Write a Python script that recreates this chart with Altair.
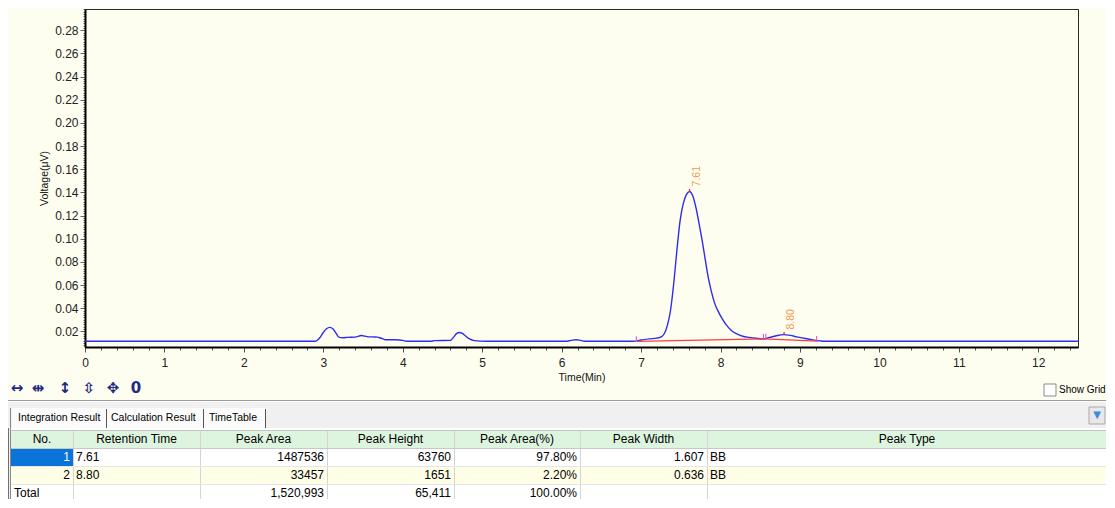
import altair as alt
import pandas as pd

# ---------------- chromatogram data ----------------
time_min = [0.0, 2.90, 2.95, 3.00, 3.04, 3.08, 3.12, 3.16, 3.20, 3.25, 3.30, 3.40, 3.48, 3.55,
            3.62, 3.68, 3.72, 3.78, 3.90, 4.00, 4.06, 4.35, 4.40, 4.60, 4.64, 4.68, 4.71, 4.75,
            4.79, 4.84, 4.90, 5.05, 6.05, 6.12, 6.18, 6.24, 6.30, 6.90, 7.00, 7.10, 7.20, 7.26,
            7.30, 7.33, 7.37, 7.41, 7.45, 7.49, 7.53, 7.57, 7.61, 7.65, 7.69, 7.73, 7.77, 7.81,
            7.85, 7.89, 7.93, 7.98, 8.03, 8.08, 8.14, 8.20, 8.28, 8.36, 8.45, 8.54, 8.62, 8.70,
            8.79, 8.88, 8.96, 9.05, 9.15, 9.25, 9.32, 12.5]
voltage = [0.0114, 0.0114, 0.0140, 0.0190, 0.0222, 0.0234, 0.0222, 0.0185, 0.0148, 0.0145, 0.0148, 0.0150, 0.0164, 0.0155,
           0.0152, 0.0150, 0.0143, 0.0128, 0.0127, 0.0122, 0.0114, 0.0114, 0.0120, 0.0122, 0.0150, 0.0183, 0.0190, 0.0182,
           0.0160, 0.0135, 0.0120, 0.0114, 0.0114, 0.0122, 0.0128, 0.0122, 0.0114, 0.0114, 0.0125, 0.0135, 0.0142, 0.0155,
           0.0190, 0.0250, 0.0378, 0.0607, 0.0893, 0.1150, 0.1300, 0.1380, 0.1408, 0.1370, 0.1270, 0.1130, 0.0980, 0.0810,
           0.0650, 0.0530, 0.0435, 0.0360, 0.0300, 0.0249, 0.0205, 0.0180, 0.0158, 0.0148, 0.0140, 0.0135, 0.0148, 0.0162,
           0.0172, 0.0165, 0.0152, 0.0140, 0.0128, 0.0118, 0.0114, 0.0114]

# integration baselines (red)
base_seg = ["A", "A", "B", "B"]
base_t = [6.95, 8.55, 8.55, 9.22]
base_v = [0.0114, 0.0136, 0.0136, 0.0116]

# peak start / end markers (magenta)
mark_t = [6.94, 8.54, 8.57, 9.21]
mark_v = [0.0112, 0.0133, 0.0134, 0.0115]

# detected peaks
peak_rt = [7.61, 8.80]
peak_h = [0.1408, 0.0172]
peak_lab = ["7.61", "8.80"]

# axis ticks
x_major = list(range(0, 13))
y_major = [0.02, 0.04, 0.06, 0.08, 0.10, 0.12, 0.14, 0.16, 0.18, 0.20, 0.22, 0.24, 0.26, 0.28]

# ---------------- result table ----------------
tab_names = ["Integration Result", "Calculation Result", "TimeTable"]
headers = ["No.", "Retention Time", "Peak Area", "Peak Height", "Peak Area(%)", "Peak Width", "Peak Type"]
row_no = ["1", "2", "Total"]
ret_time = ["7.61", "8.80", ""]
peak_area = ["1487536", "33457", "1,520,993"]
peak_height = ["63760", "1651", "65,411"]
peak_pct = ["97.80%", "2.20%", "100.00%"]
peak_width = ["1.607", "0.636", ""]
peak_type = ["BB", "BB", ""]
col_align = ["right", "left", "right", "right", "right", "right", "left"]

toolbar_icons = ["\u2194", "\u21f9", "\u2195", "\u21f3", "\u2725", "0"]

# ---------------- layout / style ----------------
OX, OY = 85, 9          # page position of the plot origin
W, H = 993, 338
PAD = {"left": 77, "top": 1, "right": 28, "bottom": 152}
IVORY = "#FEFEF0"
BLUE = "#2C2CF0"
RED = "#FF3B3B"
MAGENTA = "#E040E0"
ORANGE = "#F2974E"
FONT = "Liberation Sans"

col_edges = [11, 73, 200, 327, 454, 580, 707, 1110]
row_tops = [430, 448, 466, 484]
ROW_H = 18
BOTTOM = 502

xs = alt.Scale(domain=[0, 12.5], nice=False, zero=False)
ys = alt.Scale(domain=[0.0065, 0.2983], nice=False, zero=False)

x_ticks = [round(i * 0.2, 1) for i in range(63)]
y_ticks = [round(0.008 + i * 0.002, 3) for i in range(146)]

x_axis = alt.Axis(
    values=x_ticks,
    labelExpr="abs(datum.value - round(datum.value)) < 0.001 ? format(datum.value, 'd') : ''",
    tickSize={"condition": {"test": "abs(datum.value - round(datum.value)) < 0.001", "value": 5}, "value": 3},
    title="Time(Min)", titlePadding=4, labelPadding=5, labelOverlap=False, labelFlush=False,
    grid=False, domainColor="#000000", domainWidth=2, tickColor="#555555",
)
y_axis = alt.Axis(
    values=y_ticks,
    labelExpr="abs(datum.value * 50 - round(datum.value * 50)) < 0.001 ? format(datum.value, '.2f') : ''",
    tickSize={"condition": {"test": "abs(datum.value * 50 - round(datum.value * 50)) < 0.001", "value": 5}, "value": 2},
    title="Voltage(\u03bcV)", titlePadding=5, labelPadding=2, labelOverlap=False, labelFlush=False,
    grid=False, domainColor="#000000", domainWidth=2, tickColor="#666666",
)

X = alt.X("t:Q", scale=xs, axis=x_axis)
Y = alt.Y("v:Q", scale=ys, axis=y_axis)


def ui_rects(recs, stroke=None):
    df = pd.DataFrame(recs, columns=["x1", "y1", "x2", "y2", "fill"])
    df["x1"] -= OX
    df["x2"] -= OX
    df["y1"] -= OY
    df["y2"] -= OY
    mk = alt.Chart(df).mark_rect(stroke=stroke, strokeWidth=1) if stroke else alt.Chart(df).mark_rect()
    return mk.encode(
        x=alt.X("x1:Q", scale=None, axis=None), x2="x2:Q",
        y=alt.Y("y1:Q", scale=None, axis=None), y2="y2:Q",
        fill=alt.Fill("fill:N", scale=None),
    )


def ui_rules(recs, width=1):
    df = pd.DataFrame(recs, columns=["x1", "y1", "x2", "y2", "col"])
    df["x1"] -= OX
    df["x2"] -= OX
    df["y1"] -= OY
    df["y2"] -= OY
    return alt.Chart(df).mark_rule(strokeWidth=width).encode(
        x=alt.X("x1:Q", scale=None, axis=None), x2="x2:Q",
        y=alt.Y("y1:Q", scale=None, axis=None), y2="y2:Q",
        color=alt.Color("col:N", scale=None),
    )


def ui_text(recs, align, size=12, font=FONT, weight="normal", **kw):
    df = pd.DataFrame(recs, columns=["x", "y", "text", "col"])
    df["x"] -= OX
    df["y"] -= OY
    return alt.Chart(df).mark_text(align=align, baseline="middle", fontSize=size, font=font,
                                   fontWeight=weight, **kw).encode(
        x=alt.X("x:Q", scale=None, axis=None),
        y=alt.Y("y:Q", scale=None, axis=None),
        text="text:N",
        color=alt.Color("col:N", scale=None),
    )


# ---- UI panel below the plot ----
panel = ui_rects([
    (0, 402, 1120, BOTTOM, "#F0F0F0"),
    (12, 408, 266, 428, "#FBFBFB"),
    (11, 428, 1110, BOTTOM, "#FFFFFF"),
])
seps = ui_rules([
    (0, 400.5, 1120, 400.5, "#9A9A9A"),
    (0, 401.5, 1120, 401.5, "#FFFFFF"),
    (106.5, 409, 106.5, 428, "#555555"),
    (203.5, 409, 203.5, 428, "#555555"),
    (265.5, 409, 265.5, 428, "#555555"),
    (8.5, 428, 8.5, BOTTOM, "#707070"),
    (10.5, 408, 10.5, BOTTOM, "#8A8A8A"),
    (1111.5, 0, 1111.5, 400, "#8A8A8A"),
])
tabs_txt = ui_text([
    (18, 418, tab_names[0], "#000000"),
    (111, 418, tab_names[1], "#000000"),
    (209, 418, tab_names[2], "#000000"),
], "left", size=10.5)

# table fills
fills = [
    (11, row_tops[0], 1110, row_tops[1], "#DDF5DF"),
    (11, row_tops[1], 1110, row_tops[2], "#FFFFFF"),
    (11, row_tops[2], 1110, row_tops[3], "#FFFFE8"),
    (11, row_tops[3], 1110, BOTTOM, "#FFFFFF"),
    (col_edges[0], row_tops[1], col_edges[1], row_tops[2], "#0A74DA"),
]
table_fill = ui_rects(fills)
grid_lines = []
for cx in col_edges[1:-1]:
    grid_lines.append((cx + 0.5, row_tops[0], cx + 0.5, BOTTOM, "#D4D4D4"))
grid_lines.append((11, row_tops[0] + 0.5, 1110, row_tops[0] + 0.5, "#C4C4C4"))
grid_lines.append((11, row_tops[1] + 0.5, 1110, row_tops[1] + 0.5, "#C8C8C8"))
grid_lines.append((11, row_tops[2] + 0.5, 1110, row_tops[2] + 0.5, "#E6E6E6"))
grid_lines.append((11, row_tops[3] + 0.5, 1110, row_tops[3] + 0.5, "#E6E6E6"))
grid_lines.append((11, row_tops[3] + ROW_H + 0.5, 1110, row_tops[3] + ROW_H + 0.5, "#E6E6E6"))
table_grid = ui_rules(grid_lines)

hdr_recs = []
for i, h in enumerate(headers):
    right = col_edges[i + 1] if i < len(headers) - 1 else 1107
    hdr_recs.append(((col_edges[i] + right) / 2, row_tops[0] + ROW_H / 2, h, "#000000"))

columns = [row_no, ret_time, peak_area, peak_height, peak_pct, peak_width, peak_type]
left_recs, right_recs = [], []
for r in range(3):
    yc = row_tops[r + 1] + ROW_H / 2
    for c, colvals in enumerate(columns):
        val = colvals[r]
        if val == "":
            continue
        color = "#FFFFFF" if (r == 0 and c == 0) else "#000000"
        align = col_align[c]
        if c == 0 and val == "Total":
            align = "left"
        if align == "left":
            left_recs.append((col_edges[c] + 3, yc, val, color))
        else:
            right_recs.append((col_edges[c + 1] - 3, yc, val, color))

hdr_txt = ui_text(hdr_recs, "center")
left_txt = ui_text(left_recs, "left")
right_txt = ui_text(right_recs, "right")

# dropdown button
drop_btn = ui_rects([(1089, 407, 1105, 424, "#E8E8E8")], stroke="#A8A8A8")
drop_icon = ui_text([(1097, 415, "\u25bc", "#3C8CE0")], "center", size=10, font="DejaVu Sans")

# toolbar + checkbox
icon_x = [17, 38, 65, 89, 113, 136]
toolbar = ui_text([(x, 388, s, "#1F2A80") for x, s in zip(icon_x, toolbar_icons)],
                  "center", size=15, font="DejaVu Sans", weight="bold")
checkbox = ui_rects([(1044, 384, 1056, 396, "#FFFFFF")], stroke="#8A8A8A")
show_grid = ui_text([(1059, 390, "Show Grid", "#000000")], "left", size=10)

# ---- chromatogram layers ----
trace = alt.Chart(pd.DataFrame({"t": time_min, "v": voltage})).mark_line(
    color=BLUE, strokeWidth=1.4, interpolate="monotone", clip=True).encode(x=X, y=Y)

baseline = alt.Chart(pd.DataFrame({"seg": base_seg, "t": base_t, "v": base_v})).mark_line(
    color=RED, strokeWidth=1.2).encode(x=X, y=Y, detail="seg:N")

markers = alt.Chart(pd.DataFrame({"t": mark_t, "v": mark_v,
                                  "v2": [m + 0.0045 for m in mark_v]})).mark_rule(
    color=MAGENTA, strokeWidth=1).encode(x=X, y=Y, y2="v2:Q")

apex = alt.Chart(pd.DataFrame({"t": peak_rt, "v": peak_h,
                               "v2": [p + 0.0022 for p in peak_h]})).mark_rule(
    color=RED, strokeWidth=1.5).encode(x=X, y=Y, y2="v2:Q")

labels = alt.Chart(pd.DataFrame({"t": peak_rt, "v": peak_h, "lab": peak_lab})).mark_text(
    angle=270, align="left", baseline="middle", dx=5, dy=7, color=ORANGE,
    fontSize=10.5, font=FONT).encode(x=X, y=Y, text="lab:N")

chart = alt.layer(
    panel, seps, tabs_txt, table_fill, table_grid, hdr_txt, left_txt, right_txt,
    drop_btn, drop_icon, toolbar, checkbox, show_grid,
    trace, baseline, markers, apex, labels,
).properties(
    width=W, height=H, padding=PAD, background=IVORY,
    autosize=alt.AutoSizeParams(type="none"),
).configure_view(
    stroke="#2A2A2A", strokeWidth=1, fill=IVORY,
).configure_axis(
    labelFont=FONT, titleFont=FONT, labelFontSize=12, titleFontSize=10.5,
    titleFontWeight="normal", labelColor="#222222", titleColor="#111111",
)

chart.save("out.html", embed_options={"renderer": "svg", "actions": False})
